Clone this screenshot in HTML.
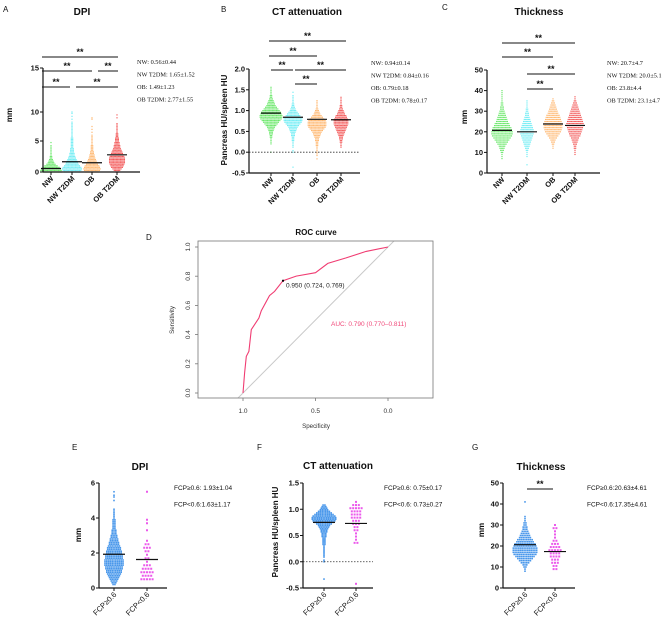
<!DOCTYPE html>
<html><head><meta charset="utf-8"><style>
html,body{margin:0;padding:0;background:#fff}
svg{display:block;font-family:"Liberation Sans",Arial,sans-serif}
</style></head><body>
<svg id="fig" width="669" height="622" viewBox="0 0 669 622"></svg>
<script>
// ---------- DATA ----------
const aCats = ["NW","NW T2DM","OB","OB T2DM"];
const aMeans = [0.56,1.65,1.49,2.77];
const aStart = [0,0,0,0];
const aStep = 0.25;
const aNW = [16,16,15,13,10,7,5,4,3,2,2,1,1,1,1,1,1,1,0,1];
const aNWT = [12,14,15,14,12,10,9,8,7,6,5,4,4,3,3,3,2,2,2,2,2,2,2,1,1,1,1,1,1,1,1,1,1,1,0,1,0,1,0,1,1];
const aOB = [10,12,13,12,11,9,8,7,6,5,4,4,3,3,2,2,2,2,1,1,1,1,1,1,1,0,1,0,1,0,1,0,0,0,0,1,1];
const aOBT = [3,5,7,9,10,11,12,12,12,12,11,10,9,8,7,6,5,5,4,4,3,3,3,2,2,2,1,1,1,1,1,1,1,0,0,0,1,0,1];
const aTicks = [0,5,10,15];
const aStats = ["NW: 0.56±0.44","NW T2DM: 1.65±1.52","OB: 1.49±1.23","OB T2DM: 2.77±1.55"];
const bMeans = [0.94,0.84,0.79,0.78];
const bStart = [0.0,-0.36,-0.16,0.12];
const bStep = 0.04;
const bNW = [1,0,0,0,0,1,1,1,1,2,2,3,3,4,5,6,8,10,12,14,16,17,17,16,15,13,11,9,7,6,5,4,3,2,2,1,1,1,1,1];
const bNWT = [1,0,0,0,0,0,0,0,0,1,1,0,1,1,1,1,2,2,2,3,3,4,5,6,7,9,11,13,14,14,13,11,9,7,5,4,3,2,2,1,1,1,1,1,0,1];
const bOB = [1,0,1,1,1,1,1,1,2,2,2,3,3,4,5,6,7,9,11,13,14,14,14,13,11,9,7,5,4,3,2,1,1,1,1,1];
const bOBT = [1,1,1,2,2,3,3,4,5,6,7,8,9,10,11,11,11,10,9,8,6,5,4,3,2,2,1,1,1,1,1];
const bTicks = [-0.5,0,0.5,1,1.5,2];
const bStats = ["NW: 0.94±0.14","NW T2DM: 0.84±0.16","OB: 0.79±0.18","OB T2DM: 0.78±0.17"];
const cMeans = [20.7,20.0,23.8,23.1];
const cStart = [7,4,12,9];
const cStep = 1;
const cNW = [1,1,1,2,3,4,5,7,9,11,13,15,16,16,15,14,12,11,9,8,7,6,5,4,3,3,2,2,1,1,1,1,1,1];
const cNWT = [1,0,0,0,1,1,1,2,3,4,5,6,7,8,9,10,10,10,9,8,7,6,5,4,3,3,2,2,1,1,1,1];
const cOB = [1,1,2,3,4,6,8,10,12,13,14,14,14,13,12,11,10,8,7,6,5,4,3,2,1];
const cOBT = [1,1,1,2,2,3,4,5,6,8,9,10,11,12,13,13,12,11,10,9,8,7,6,5,4,3,2,1,1];
const cTicks = [0,10,20,30,40,50];
const cStats = ["NW: 20.7±4.7","NW T2DM: 20.0±5.1","OB: 23.8±4.4","OB T2DM: 23.1±4.7"];
const rocSpec = [1.0,0.989,0.977,0.959,0.943,0.890,0.874,0.817,0.782,0.724,0.633,0.5,0.415,0.289,0.151,0.0];
const rocSens = [0,0.137,0.251,0.285,0.434,0.514,0.564,0.667,0.696,0.769,0.801,0.824,0.888,0.925,0.970,1.0];
const rocBest = [0.724,0.769];
const rocTicks = [0,0.2,0.4,0.6,0.8,1.0];
const rocXTicks = [1.0,0.5,0.0];
const fcpCats = ["FCP≥0.6","FCP<0.6"];
const eMeans = [1.93,1.63];
const eStart = [0.2,0.5];
const eStep = [0.1,0.2];
const eHi = [2,3,4,5,6,7,8,9,9,10,10,11,11,11,11,10,10,10,9,9,8,8,7,6,6,5,5,4,4,3,3,3,2,2,2,2,2,2,1,1,1,1,1,1,0,0,0,0,1,0,1,1,0,1];
const eLo = [5,4,5,4,3,1,2,1,2,3,2,1,0,0,1,0,1,1,0,0,0,0,0,0,0,1];
const eTicks = [0,2,4,6];
const fMeans = [0.75,0.73];
const fStart = [-0.33,-0.42];
const fStep = [0.03,0.06];
const fHi = [1,0,0,0,0,0,0,0,0,0,0,1,1,0,1,1,1,1,1,1,1,1,2,2,2,2,2,3,3,3,4,4,5,6,7,9,11,13,14,14,13,11,9,7,5,4,3,2];
const fLo = [1,0,0,0,0,0,0,0,0,0,0,0,0,2,1,1,1,2,2,3,3,4,4,4,5,3,1];
const fTicks = [-0.5,0,0.5,1,1.5];
const gMeans = [20.63,17.35];
const gStart = [8,9];
const gStep = [1,1.5];
const gHi = [1,1,2,3,5,7,9,11,13,14,14,14,13,12,10,9,7,6,5,4,3,3,2,2,1,1,1,0,0,0,0,0,0,1];
const gLo = [2,2,3,3,4,4,5,4,3,2,1,1,1,2,1];
const gTicks = [0,10,20,30,40,50];

// ---------- HELPERS ----------
const svg = document.getElementById('fig');
const NS = 'http://www.w3.org/2000/svg';
function el(tag, attrs, parent, txt){
  const e = document.createElementNS(NS, tag);
  for (const k in attrs) e.setAttribute(k, attrs[k]);
  if (txt !== undefined) e.textContent = txt;
  (parent || svg).appendChild(e);
  return e;
}
function lin(d0,d1,r0,r1){ return v => r0 + (v-d0)*(r1-r0)/(d1-d0); }
function piece(ds, rs){ return v => { for (let i=0;i<ds.length-1;i++){ if (v<=ds[i+1]||i===ds.length-2) return rs[i]+(v-ds[i])*(rs[i+1]-rs[i])/(ds[i+1]-ds[i]); } }; }
function txt(x,y,s,opts,parent,name){
  const t = el('text', Object.assign({x:x,y:y,'font-size':7,fill:'#111'},opts||{}), parent, s);
  
  
  return t;
}

function scatterPanel(p){
  const g = el('g', {});
  
  
  const ys = p.ys;
  txt(p.letter[0], p.letter[1], p.letter[2], {'font-size':8}, g, 'panel-letter');
  txt(p.title[0], p.title[1], p.title[2], {'font-size':p.titleSize||10,'font-weight':'bold','text-anchor':'middle'}, g, 'panel-title');
  p.series.forEach((arr, si) => {
    const sg = el('g', {fill:p.colors[si], 'fill-opacity':p.alpha||0.7}, g);
    
    
    const st = Array.isArray(p.step)?p.step[si]:p.step;
    const dx = Array.isArray(p.dx)?p.dx[si]:p.dx;
    const ds = Array.isArray(p.dot)?p.dot[si]:p.dot;
    arr.forEach((n, i) => {
      const y = ys(p.start[si] + i*st);
      for (let k=0;k<n;k++){
        const x = p.cx[si] + (k-(n-1)/2)*dx;
        const r = el('rect', {x:(x-ds/2).toFixed(2), y:(y-ds/2).toFixed(2), width:ds, height:ds}, sg);
        
        
      }
    });
  });
  p.means.forEach((m, i) => {
    const l = el('line', {x1:p.cx[i]-p.ml, x2:p.cx[i]+p.ml, y1:ys(m), y2:ys(m), stroke:'#111','stroke-width':1.2}, g);
    
    
  });
  if (p.zeroLine){
    const z = el('line', {x1:p.ax, x2:p.xEnd, y1:ys(0), y2:ys(0), stroke:'#333','stroke-width':0.8,'stroke-dasharray':'1.5,1.5'}, g);
    
    
  }
  const yb = ys(p.ticks[0]), yt = ys(p.ticks[p.ticks.length-1]);
  const ya = el('line', {x1:p.ax, x2:p.ax, y1:yt, y2:yb, stroke:'#111','stroke-width':1.2}, g);
  
  
  const xa = el('line', {x1:p.ax, x2:p.xEnd, y1:yb, y2:yb, stroke:'#111','stroke-width':1.2}, g);
  
  
  p.ticks.forEach(t => {
    const tl = el('line', {x1:p.ax-3, x2:p.ax, y1:ys(t), y2:ys(t), stroke:'#111','stroke-width':1}, g);
    
    
    txt(p.ax-4, ys(t)+2.5, p.fmt(t), {'font-size':7.5,'font-weight':'bold','text-anchor':'end'}, g, 'y-tick-label');
  });
  p.cats.forEach((c, i) => {
    const tl = el('line', {x1:p.cx[i], x2:p.cx[i], y1:yb, y2:yb+3, stroke:'#111','stroke-width':1}, g);
    
    
    txt(0, 0, c, {'font-size':7.5,'font-weight':p.xBold?'bold':'normal','text-anchor':'end',transform:`translate(${p.cx[i]+3},${yb+7}) rotate(-45)`}, g, 'x-tick-label');
  });
  txt(0,0,p.ylabel,{'font-size':8,'font-weight':'bold','text-anchor':'middle',transform:`translate(${p.yl[0]},${p.yl[1]}) rotate(-90)`}, g, 'y-axis-title');
  (p.brackets||[]).forEach(b => {
    const l = el('line', {x1:b[0], x2:b[1], y1:b[2], y2:b[2], stroke:'#111','stroke-width':1}, g);
    
    
    txt((b[0]+b[1])/2, b[2]-2, '**', {'font-size':9,'font-weight':'bold','text-anchor':'middle'}, g, 'significance-stars');
  });
  p.stats.forEach((s, i) => {
    txt(p.statX, p.statY + i*p.statDy, s, {'font-size':p.statSize||6.5,'font-family':p.statFont||'"Liberation Sans",sans-serif'}, g, 'stats-text');
  });
}

const fmtInt = v => String(v);
const fmt1 = v => v.toFixed(1);
const C4 = ['#2ede2e','#35e5f0','#ff9a35','#ee1515'];

scatterPanel({name:'panel-a-dpi', letter:[3,12,'A'], title:[82,15,'DPI'],
  ys: piece(aTicks,[172,141,112,68]), ticks:aTicks, fmt:fmtInt, ax:43, xEnd:140,
  cats:aCats, cx:[51,72,92,117], series:[aNW,aNWT,aOB,aOBT], start:aStart, step:aStep, dx:1.35, dot:1.2,
  colors:C4, means:aMeans, ml:10, xBold:true,
  ylabel:'mm', yl:[12,115],
  brackets:[[42,118,57],[42,92,71],[98,118,71],[42,70,87],[76,118,87]],
  stats:aStats, statX:137, statY:64, statDy:12.5, statFont:'"Liberation Serif",serif', statSize:6.3});
scatterPanel({name:'panel-b-ct-attenuation', letter:[221,12,'B'], title:[307,15,'CT attenuation'],
  ys: lin(-0.5,2,173,69), ticks:bTicks, fmt:fmt1, ax:249, xEnd:360, zeroLine:true,
  cats:aCats, cx:[271,293,317,341], series:[bNW,bNWT,bOB,bOBT], start:bStart, step:bStep, dx:1.35, dot:1.2,
  colors:C4, means:bMeans, ml:10, xBold:true,
  ylabel:'Pancreas HU/spleen HU', yl:[227,120],
  brackets:[[269,346,41],[269,317,56],[271,293,70],[295,346,70],[295,317,84]],
  stats:bStats, statX:371, statY:65, statDy:12.5, statFont:'"Liberation Serif",serif', statSize:6.3});
scatterPanel({name:'panel-c-thickness', letter:[442,10,'C'], title:[539,15,'Thickness'],
  ys: lin(0,50,173,70), ticks:cTicks, fmt:fmtInt, ax:487, xEnd:600,
  cats:aCats, cx:[502,527,553,575], series:[cNW,cNWT,cOB,cOBT], start:cStart, step:cStep, dx:1.35, dot:1.2,
  colors:C4, means:cMeans, ml:10, xBold:true,
  ylabel:'mm', yl:[467,117],
  brackets:[[502,575,43],[502,553,57],[527,575,74],[527,553,89]],
  stats:cStats, statX:607, statY:65, statDy:12.5, statFont:'"Liberation Serif",serif', statSize:6.3});
scatterPanel({name:'panel-e-dpi', letter:[72,450,'E'], title:[140,470,'DPI'],
  ys: lin(0,6,588,483), ticks:eTicks, fmt:fmtInt, ax:99, xEnd:167,
  cats:fcpCats, cx:[114,147], series:[eHi,eLo], start:eStart, step:eStep, dx:[1.8,2.8], dot:[1.6,2],
  colors:['#2a86e8','#e83ce8'], means:eMeans, ml:11, xBold:false, alpha:0.85,
  ylabel:'mm', yl:[81,535],
  stats:["FCP≥0.6: 1.93±1.04","FCP<0.6:1.63±1.17"], statX:174, statY:490, statDy:16.5, statSize:6.5});
scatterPanel({name:'panel-f-ct-attenuation', letter:[257,450,'F'], title:[338,469,'CT  attenuation'],
  ys: lin(-0.5,1.5,588,483), ticks:fTicks, fmt:fmt1, ax:303, xEnd:373, zeroLine:true,
  cats:fcpCats, cx:[324,356], series:[fHi,fLo], start:fStart, step:fStep, dx:[1.8,2.8], dot:[1.6,2],
  colors:['#2a86e8','#e83ce8'], means:fMeans, ml:11, xBold:false, alpha:0.85,
  ylabel:'Pancreas HU/spleen HU', yl:[278,532],
  stats:["FCP≥0.6: 0.75±0.17","FCP<0.6: 0.73±0.27"], statX:384, statY:490, statDy:16.5, statSize:6.5});
scatterPanel({name:'panel-g-thickness', letter:[472,450,'G'], title:[541,470,'Thickness'],
  ys: lin(0,50,588,483), ticks:gTicks, fmt:fmtInt, ax:503, xEnd:575,
  cats:fcpCats, cx:[525,555], series:[gHi,gLo], start:gStart, step:gStep, dx:[1.8,2.8], dot:[1.6,2],
  colors:['#2a86e8','#e83ce8'], means:gMeans, ml:11, xBold:false, alpha:0.85,
  ylabel:'mm', yl:[484,530],
  brackets:[[527,553,489]],
  stats:["FCP≥0.6:20.63±4.61","FCP<0.6:17.35±4.61"], statX:587, statY:490, statDy:16.5, statSize:6.5});

(function(){
  const g = el('g', {});
  
  
  const xs = lin(1,0,243,388), ys = lin(0,1,393,247);
  const box = [198,241,433,398];
  txt(146,240,'D',{'font-size':8},g,'panel-letter');
  txt(316,235,'ROC curve',{'font-size':8,'font-weight':'bold','text-anchor':'middle'},g,'chart-title');
  const clip = el('clipPath',{id:'rocclip'},g);
  el('rect',{x:box[0],y:box[1],width:box[2]-box[0],height:box[3]-box[1]},clip);
  const diag = el('line',{x1:xs(1.05),y1:ys(-0.05),x2:xs(-0.2),y2:ys(1.2),stroke:'#c8c8c8','stroke-width':1,'clip-path':'url(#rocclip)'},g);
  
  
  const frame = el('rect',{x:box[0],y:box[1],width:box[2]-box[0],height:box[3]-box[1],fill:'none',stroke:'#777','stroke-width':0.8},g);
  
  
  const pts = rocSpec.map((s,i)=>xs(s).toFixed(1)+','+ys(rocSens[i]).toFixed(1)).join(' ');
  const line = el('polyline',{points:pts,fill:'none',stroke:'#f03c72','stroke-width':1.1},g);
  
  
  const bp = el('circle',{cx:xs(rocBest[0]),cy:ys(rocBest[1]),r:1.1,fill:'#000'},g);
  
  
  txt(xs(rocBest[0])+3,ys(rocBest[1])+7,'0.950 (0.724, 0.769)',{'font-size':6.5,fill:'#222'},g,'threshold-label');
  txt(331,326,'AUC: 0.790 (0.770–0.811)',{'font-size':6.5,fill:'#f04a7a'},g,'auc-label');
  rocTicks.forEach(t=>{
    const l = el('line',{x1:box[0]-3,x2:box[0],y1:ys(t),y2:ys(t),stroke:'#777','stroke-width':0.8},g);
    
    
    txt(0,0,t.toFixed(1),{'font-size':6.5,fill:'#333','text-anchor':'middle',transform:`translate(${box[0]-8},${ys(t)}) rotate(-90)`},g,'y-tick-label');
  });
  rocXTicks.forEach(t=>{
    const l = el('line',{x1:xs(t),x2:xs(t),y1:box[3],y2:box[3]+3,stroke:'#777','stroke-width':0.8},g);
    
    
    txt(xs(t),box[3]+15,t.toFixed(1),{'font-size':6.5,fill:'#333','text-anchor':'middle'},g,'x-tick-label');
  });
  txt(316,428,'Specificity',{'font-size':6.2,fill:'#333','text-anchor':'middle'},g,'x-axis-title');
  txt(0,0,'Sensitivity',{'font-size':6.2,fill:'#333','text-anchor':'middle',transform:'translate(174,320) rotate(-90)'},g,'y-axis-title');
})();
</script>
</body></html>
